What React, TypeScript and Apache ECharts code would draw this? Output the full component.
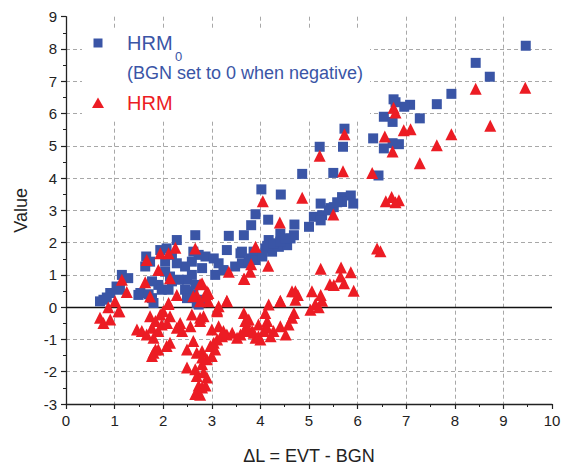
import React, { useEffect, useRef } from "react";
import * as echarts from "echarts";

// HRM0 (BGN set to 0 when negative): [ΔL, value]
const hrm0Points: [number, number][] = [
  [9.46, 8.1], [8.43, 7.57], [8.72, 7.14], [7.93, 6.61], [7.63, 6.29], [7.08, 6.27], [6.96, 6.21],
  [6.74, 6.44], [6.78, 6.35], [7.28, 5.85], [6.54, 5.9], [6.72, 5.74], [6.85, 5.05], [6.72, 5.08],
  [6.54, 4.92], [6.43, 4.08], [5.73, 5.53], [6.32, 5.23], [5.22, 4.97], [5.7, 4.97],
  [4.86, 4.13], [5.5, 4.16], [4.42, 3.49], [4.02, 3.65],
  [5.24, 3.21], [5.44, 3.07], [5.68, 3.41], [5.86, 3.46], [5.68, 3.26], [5.91, 3.21], [5.1, 2.8], [5.27, 2.85],
  [3.9, 2.88], [4.16, 2.71], [3.81, 2.54], [4.7, 2.56], [4.69, 2.23], [3.66, 2.23], [4.41, 2.28],
  [4.17, 2.08], [4.1, 1.82], [4.24, 1.72], [4.0, 1.62], [3.79, 1.51], [3.59, 1.67], [4.38, 1.87],
  [4.55, 1.92], [4.62, 2.13], [5.0, 2.49], [5.24, 2.69], [5.41, 3.0], [5.51, 3.1], [5.58, 3.25],
  [3.35, 2.21], [2.66, 2.23], [3.31, 1.77], [3.62, 1.72], [3.86, 1.72], [4.14, 1.9], [4.27, 1.98],
  [4.41, 2.03], [4.52, 2.13], [2.62, 1.72], [2.73, 1.62], [2.87, 1.57], [3.04, 1.51], [3.14, 1.36],
  [3.24, 1.15], [3.48, 1.26], [3.62, 1.36], [3.76, 1.41], [3.9, 1.46], [4.04, 1.57], [2.59, 1.41],
  [2.8, 1.21], [2.59, 1.0], [2.49, 0.85], [2.66, 0.69], [2.52, 0.49], [2.62, 0.38], [2.73, 0.08],
  [2.83, 0.23], [3.07, 1.0], [2.45, 1.26],
  [2.28, 2.08], [1.94, 1.77], [2.07, 1.82], [2.18, 1.62], [2.28, 1.36], [1.63, 1.26], [1.15, 1.0],
  [1.28, 0.9], [1.04, 0.64], [0.91, 0.44], [0.77, 0.23], [1.49, 0.38], [1.77, 0.8], [1.9, 0.69],
  [1.97, 0.54], [1.77, 0.28], [1.8, 0.13], [2.11, 0.54], [2.18, 0.8], [2.32, 0.85], [2.45, 0.54],
  [2.49, 0.28], [2.04, 1.1], [2.04, 1.41], [2.14, 0.95], [1.73, 1.41], [1.65, 1.57],
  [0.7, 0.18], [1.11, 0.54], [1.53, 0.44], [1.7, 0.4], [2.69, 0.13], [0.84, 0.3],
];

// HRM: [ΔL, value]
const hrmPoints: [number, number][] = [
  [9.45, 6.8], [8.43, 6.77], [6.74, 6.18], [6.78, 6.03], [8.73, 5.62], [6.95, 5.48], [7.09, 5.51],
  [7.93, 5.36], [6.56, 5.29], [7.63, 5.02], [6.72, 4.82], [7.28, 4.46], [6.58, 3.28], [6.7, 3.41],
  [6.85, 3.31], [6.78, 3.25], [6.47, 1.73], [6.4, 1.82],
  [5.73, 5.36], [5.22, 4.69], [5.7, 4.21], [6.3, 4.16], [4.86, 3.39], [5.5, 2.87], [4.05, 3.28], [4.4, 2.62],
  [3.9, 1.87], [3.81, 1.33], [4.16, 1.28], [3.67, 0.87], [5.24, 1.19], [5.66, 1.23], [5.86, 1.08],
  [5.65, 0.95], [5.72, 0.74], [5.43, 0.71], [5.51, 0.69], [5.92, 0.51], [4.65, 0.49], [4.77, 0.38],
  [5.06, 0.49], [5.24, 0.38], [4.41, 0.2], [4.17, 0.08], [4.72, 0.23], [5.13, 0.1], [5.27, 0.2], [5.2, 0.0],
  [3.66, -0.18], [4.1, -0.18], [3.76, -0.38], [5.03, -0.08], [4.69, -0.18], [4.65, -0.33], [3.96, -0.54],
  [4.14, -0.43], [3.83, -0.74], [3.59, -0.85], [3.69, -0.69], [4.0, -1.0], [3.9, -0.95], [4.27, -0.74],
  [4.21, -0.9], [4.41, -0.59], [4.58, -0.54], [4.52, -0.85],
  [1.73, -0.28], [1.94, -0.23], [2.0, -0.13], [2.14, -0.28], [1.84, -0.43], [1.46, -0.69], [1.56, -0.74],
  [1.66, -0.85], [1.77, -0.64], [1.97, -0.54], [1.9, -0.74], [2.08, -0.49], [2.35, -0.49], [2.28, -0.64],
  [2.39, -0.74], [1.8, -0.95], [2.14, -1.1], [2.07, -1.2], [1.9, -1.31], [1.8, -1.41], [1.77, -1.51], [1.84, -1.31],
  [2.59, -0.23], [2.76, -0.43], [2.83, -0.28], [2.56, -0.59], [2.62, -1.05], [2.49, -1.31], [2.69, -1.41],
  [2.8, -1.36], [2.49, -1.87], [2.66, -1.92], [2.69, -2.13], [2.8, -1.77], [2.83, -2.02], [2.9, -2.18],
  [2.73, -2.43], [2.8, -2.49], [2.87, -2.43], [2.69, -2.64], [2.76, -2.71], [2.66, -2.69],
  [2.97, -1.2], [3.04, -1.1], [3.11, -1.0], [3.21, -0.9], [3.31, -0.85], [3.42, -0.79], [3.52, -0.95],
  [3.66, -0.74], [3.76, -0.69], [3.86, -0.79], [3.96, -0.9], [4.07, -0.74], [4.14, -0.64], [3.0, -0.69],
  [3.14, -0.59], [3.24, -0.74], [3.07, -1.31], [3.0, -1.51], [2.9, -1.61], [2.8, -1.56], [3.14, 0.03],
  [3.11, -0.13], [3.69, -0.43], [2.76, -0.33],
  [0.7, -0.33], [0.91, -0.38], [0.77, -0.49], [1.1, -0.13], [0.87, 0.0], [1.01, 0.18], [2.11, 0.13],
  [2.28, 0.38], [2.69, 0.38], [2.9, 0.49], [2.87, 0.33], [2.93, 0.18], [3.31, 0.2], [3.72, -0.38],
  [1.66, 1.46], [1.15, 0.85], [1.25, 0.47], [1.63, 0.77], [1.94, 1.67], [2.11, 1.67], [2.25, 1.84],
  [1.9, 1.15], [2.14, 0.9], [1.73, 0.33], [2.11, 0.1], [1.08, -0.13],
  [2.66, 1.82], [3.35, 1.1], [3.66, 0.88], [2.76, 0.71], [2.62, 0.34], [2.9, 0.41], [2.76, 0.18],
  [3.31, 0.18], [3.11, -0.08], [4.41, 0.18], [4.72, 0.49], [2.8, 0.74], [2.93, 0.44], [3.79, 1.1],
];

const xRange = [0, 10];
const yRange = [-3, 9];
const seriesNames = ["HRM0", "HRM"];
const legendSubLine = "(BGN set to 0 when negative)";
const xAxisTitle = "ΔL = EVT - BGN";
const yAxisTitle = "Value";

const BLUE = "#3a55a6";
const RED = "#ec1c24";
const AXIS = "#222";
const FONT = "'Liberation Sans', Arial, sans-serif";

export default function App() {
  const ref = useRef<HTMLDivElement>(null);

  useEffect(() => {
    if (!ref.current) return;
    const chart = echarts.init(ref.current, null, { renderer: "svg" });

    const axisCommon = {
      type: "value" as const,
      interval: 1,
      nameLocation: "middle" as const,
      nameTextStyle: { fontSize: 18, color: AXIS, fontFamily: FONT },
      axisLine: { show: true, onZero: false, lineStyle: { color: AXIS, width: 1.3 } },
      axisTick: { show: true, length: 5, lineStyle: { color: AXIS, width: 1.2 } },
      minorTick: { show: true, splitNumber: 2, length: 3, lineStyle: { color: AXIS, width: 1 } },
      splitLine: {
        show: true,
        showMinLine: false,
        showMaxLine: false,
        lineStyle: { color: "#a8a8a8", type: [4, 3], width: 1 },
      },
    };

    chart.setOption({
      animation: false,
      backgroundColor: "#fff",
      textStyle: { fontFamily: FONT },
      grid: { left: 66, right: 15, top: 16.7, bottom: 63.3, containLabel: false },
      xAxis: {
        ...axisCommon,
        min: xRange[0],
        max: xRange[1],
        name: xAxisTitle,
        nameGap: 43,
        axisLabel: { fontSize: 15, color: AXIS, margin: 9, fontFamily: FONT },
      },
      yAxis: {
        ...axisCommon,
        min: yRange[0],
        max: yRange[1],
        name: yAxisTitle,
        nameGap: 36,
        nameRotate: 90,
        axisLabel: { fontSize: 15, color: AXIS, margin: 9, fontFamily: FONT },
      },
      series: [
        {
          name: seriesNames[0],
          type: "scatter",
          symbol: "rect",
          symbolSize: 10,
          itemStyle: { color: BLUE, opacity: 1 },
          data: hrm0Points,
          z: 2,
          markLine: {
            silent: true,
            symbol: "none",
            z: 1,
            label: { show: false },
            lineStyle: { color: "#111", type: "solid", width: 1.3 },
            data: [{ yAxis: 0 }],
          },
        },
        {
          name: seriesNames[1],
          type: "scatter",
          symbol: "triangle",
          symbolSize: 12,
          itemStyle: { color: RED, opacity: 1 },
          data: hrmPoints,
          z: 3,
        },
      ],
      graphic: [
        { type: "rect", z: 10, shape: { x: 82, y: 30, width: 288, height: 89 }, style: { fill: "#fff" } },
        { type: "rect", z: 11, shape: { x: 93.5, y: 38.5, width: 9, height: 9 }, style: { fill: BLUE } },
        {
          type: "text", z: 11, x: 127, y: 43,
          style: { text: "HRM", fill: BLUE, fontSize: 20, fontFamily: FONT, verticalAlign: "middle", align: "left" },
        },
        {
          type: "text", z: 11, x: 175, y: 56,
          style: { text: "0", fill: BLUE, fontSize: 13, fontFamily: FONT, verticalAlign: "middle", align: "left" },
        },
        {
          type: "text", z: 11, x: 127, y: 73,
          style: { text: legendSubLine, fill: BLUE, fontSize: 18, fontFamily: FONT, verticalAlign: "middle", align: "left" },
        },
        {
          type: "polygon", z: 11,
          shape: { points: [[98, 97.5], [92, 108], [104, 108]] },
          style: { fill: RED },
        },
        {
          type: "text", z: 11, x: 127, y: 103,
          style: { text: "HRM", fill: RED, fontSize: 20, fontFamily: FONT, verticalAlign: "middle", align: "left" },
        },
      ],
    });

    return () => chart.dispose();
  }, []);

  return (
    <div
      ref={ref}
      style={{ position: "fixed", left: 0, top: 0, width: 567, height: 470, background: "#fff" }}
    />
  );
}
